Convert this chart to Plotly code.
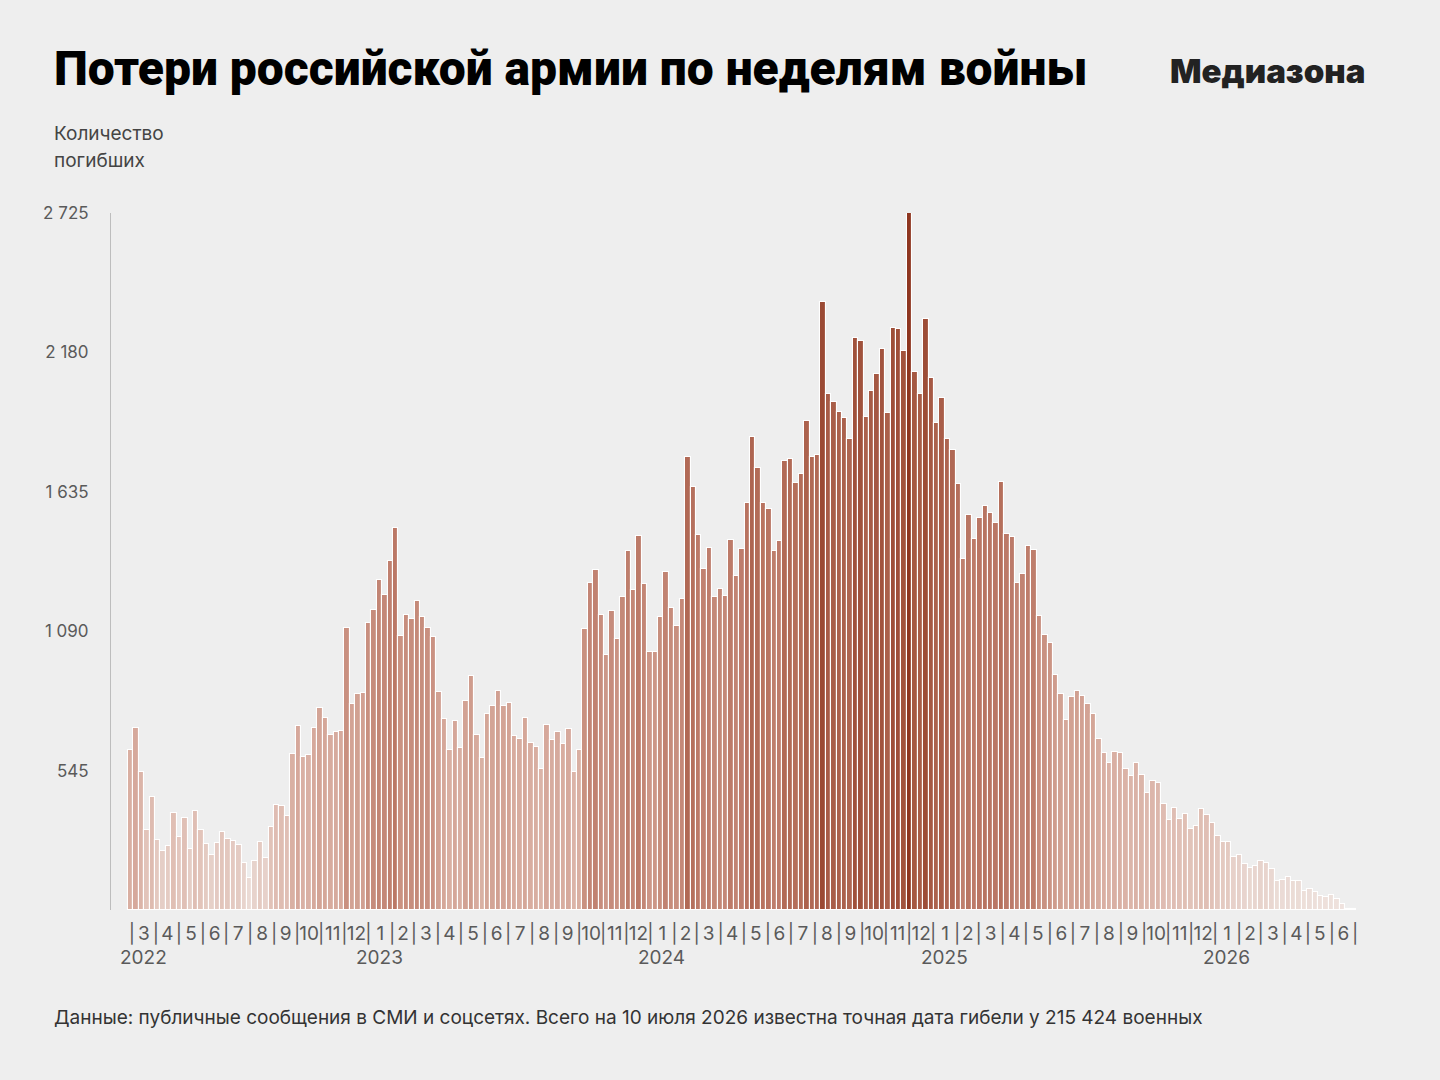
import plotly.graph_objects as go
import pandas as pd

# ---------------- data ----------------
weekly_deaths = [
    627, 712, 541, 314, 442, 274, 232, 251, 378, 287,
    358, 240, 387, 313, 257, 215, 262, 304, 279, 269,
    254, 184, 124, 192, 266, 205, 325, 412, 405, 369,
    610, 721, 598, 606, 713, 789, 751, 683, 697, 698,
    1101, 804, 846, 847, 1121, 1172, 1289, 1230, 1364, 1493,
    1072, 1153, 1136, 1208, 1144, 1104, 1067, 851, 746, 626,
    739, 632, 816, 914, 684, 593, 765, 799, 856, 799,
    811, 680, 670, 749, 652, 637, 550, 722, 666, 696,
    649, 708, 540, 625, 1098, 1279, 1331, 1152, 996, 1170,
    1060, 1223, 1402, 1251, 1463, 1273, 1007, 1007, 1144, 1321,
    1179, 1112, 1214, 1772, 1654, 1467, 1332, 1414, 1223, 1254,
    1229, 1448, 1305, 1410, 1590, 1849, 1730, 1592, 1567, 1402,
    1442, 1755, 1765, 1671, 1704, 1911, 1772, 1780, 2377, 2018,
    1988, 1946, 1924, 1841, 2236, 2224, 1926, 2031, 2094, 2193,
    1944, 2276, 2270, 2187, 2725, 2103, 2018, 2311, 2078, 1905,
    2002, 1843, 1798, 1666, 1374, 1543, 1452, 1533, 1578, 1551,
    1513, 1673, 1471, 1458, 1277, 1312, 1425, 1407, 1151, 1076,
    1044, 919, 846, 744, 833, 858, 836, 804, 767, 669,
    614, 576, 619, 614, 552, 525, 576, 527, 458, 505,
    496, 415, 352, 398, 356, 376, 318, 330, 395, 372,
    340, 288, 267, 267, 207, 214, 180, 163, 173, 192,
    183, 159, 112, 119, 130, 115, 115, 74, 81, 70,
    54, 52, 57, 43, 22, 5, 3,
]
first_week_start = "2022-02-24"
y_tick_values = [545, 1090, 1635, 2180, 2725]
y_tick_labels = ["545", "1 090", "1 635", "2 180", "2 725"]
month_sep_start = "2022-03-01"
month_sep_end = "2026-07-01"
year_labels = ["2022", "2023", "2024", "2025", "2026"]
year_label_dates = ["2022-03-16", "2023-01-16", "2024-01-16", "2025-01-16", "2026-01-16"]

title_text = "Потери российской армии по неделям войны"
brand_text = "Медиазона"
ylabel_lines = ["Количество", "погибших"]
footnote = ("Данные: публичные сообщения в СМИ и соцсетях. Всего на 10 июля 2026 "
            "известна точная дата гибели у 215 424 военных")

# ---------------- geometry ----------------
W, H = 1440, 1080
ML, MR, MT, MB = 111, 78, 213, 170
PW, PH = W - ML - MR, H - MT - MB


def px(x):
    return (x - ML) / PW


def py(y):
    return (H - MB - y) / PH


week_starts = pd.date_range(first_week_start, periods=len(weekly_deaths), freq="7D")
week_centers = week_starts + pd.Timedelta(hours=84)
WEEK_MS = 7 * 24 * 3600 * 1000

month_starts = pd.date_range(month_sep_start, month_sep_end, freq="MS")
tick_vals, tick_text = [], []
for i, ms in enumerate(month_starts):
    tick_vals.append(ms)
    tick_text.append("|")
    if i + 1 < len(month_starts):
        nxt = month_starts[i + 1]
        tick_vals.append(ms + (nxt - ms) / 2)
        tick_text.append(str(ms.month))

colorscale = [
    [0.0, "#f0e4e0"],
    [0.05, "#eadad4"],
    [0.12, "#e1c2b8"],
    [0.25, "#d7ab9e"],
    [0.40, "#c99181"],
    [0.55, "#bb7866"],
    [0.70, "#ac624d"],
    [0.85, "#9d4d37"],
    [1.0, "#8e3620"],
]

fig = go.Figure()
fig.add_trace(go.Bar(
    x=week_centers,
    y=weekly_deaths,
    width=WEEK_MS,
    marker=dict(
        color=weekly_deaths,
        colorscale=colorscale,
        cmin=0,
        cmax=max(weekly_deaths),
        line=dict(color="#ffffff", width=1.1),
    ),
    hovertemplate="%{x|%d.%m.%Y}: %{y}<extra></extra>",
))

font_main = "Inter, Roboto, 'Noto Sans', sans-serif"

fig.update_layout(
    width=W, height=H,
    margin=dict(l=ML, r=MR, t=MT, b=MB, pad=0),
    paper_bgcolor="#eeeeee",
    plot_bgcolor="#eeeeee",
    showlegend=False,
    bargap=0,
    font=dict(family=font_main, color="#555555", size=18),
    xaxis=dict(
        type="date",
        range=["2022-02-02", "2026-07-10"],
        tickmode="array",
        tickvals=tick_vals,
        ticktext=tick_text,
        tickangle=0,
        ticks="",
        showgrid=False,
        zeroline=False,
        showline=False,
        tickfont=dict(size=19, color="#5a5a5a", family=font_main),
        ticklabelstandoff=10,
    ),
    yaxis=dict(
        range=[0, 2725],
        tickmode="array",
        tickvals=y_tick_values,
        ticktext=y_tick_labels,
        ticks="",
        showgrid=False,
        zeroline=False,
        showline=True,
        linecolor="#bdbdbd",
        linewidth=1,
        tickfont=dict(size=17, color="#5a5a5a", family=font_main),
        ticklabelstandoff=18,
    ),
)

ann = []
ann.append(dict(
    text=title_text, xref="paper", yref="paper", x=px(52), y=py(68),
    xanchor="left", yanchor="middle", showarrow=False,
    font=dict(family="Roboto, Inter, sans-serif", size=48, color="#000000", weight=900),
))
ann.append(dict(
    text=brand_text, xref="paper", yref="paper", x=px(1367), y=py(71),
    xanchor="right", yanchor="middle", showarrow=False,
    font=dict(family="Inter, Roboto, sans-serif", size=33, color="#222222", weight=900),
))
for i, line in enumerate(ylabel_lines):
    ann.append(dict(
        text=line, xref="paper", yref="paper", x=px(52), y=py(133 + 27 * i),
        xanchor="left", yanchor="middle", showarrow=False,
        font=dict(family=font_main, size=19, color="#444444"),
    ))
for lab, d in zip(year_labels, year_label_dates):
    ann.append(dict(
        text=lab, xref="x", yref="paper", x=d, y=py(957),
        xanchor="center", yanchor="middle", showarrow=False,
        font=dict(family=font_main, size=19, color="#5a5a5a"),
    ))
ann.append(dict(
    text=footnote, xref="paper", yref="paper", x=px(52), y=py(1017),
    xanchor="left", yanchor="middle", showarrow=False,
    font=dict(family=font_main, size=19, color="#333333"),
))
fig.update_layout(annotations=ann)

fig.write_html("out.html")
